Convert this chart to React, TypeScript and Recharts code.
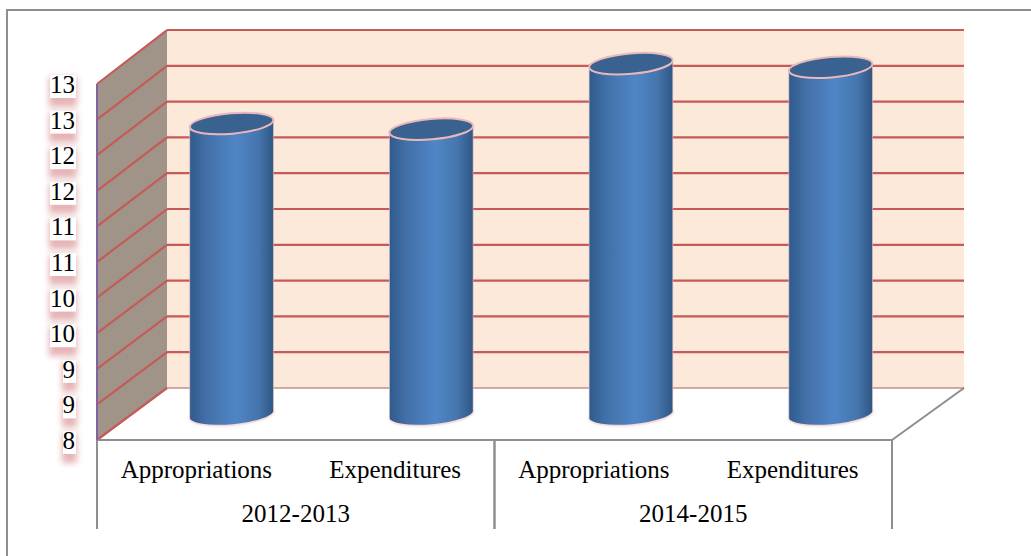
import React from "react";
import { Bar, CartesianGrid, ComposedChart, XAxis, YAxis } from "recharts";

const categories = ["Appropriations", "Expenditures", "Appropriations", "Expenditures"];
const periods = ["2012-2013", "2012-2013", "2014-2015", "2014-2015"];
const amounts = [12.08, 12.0, 12.92, 12.87];
const yTicks = [8, 8.5, 9, 9.5, 10, 10.5, 11, 11.5, 12, 12.5, 13];

const rows = categories.map((category, i) => ({
  category,
  period: periods[i],
  amount: amounts[i],
}));

const WIDTH = 1031;
const HEIGHT = 556;
const SERIF = "'Liberation Serif', 'Times New Roman', serif";
const WALL_RED = "#c65a58";
const FRAME_GREY = "#8e8e8e";
const DEPTH_X = 70;
const DEPTH_Y = 52;
const RIGHT_DEPTH_X = 72;
const BACK_STRETCH = 1.0056;
const FONT_SIZE = 25;

// Projects a point on the front plane onto the back wall of the 3D box.
const backY = (y: number, floorY: number) => floorY - DEPTH_Y - (floorY - y) * BACK_STRETCH;

function Walls({ x, y, width, height }: any) {
  const floorY = y + height;
  const bx = x + DEPTH_X;
  const right = x + width + RIGHT_DEPTH_X;
  const topBack = backY(y, floorY);
  const bottomBack = floorY - DEPTH_Y;
  return (
    <g>
      <rect x={bx} y={topBack} width={right - bx} height={bottomBack - topBack} fill="#fce9da" />
      <polygon
        points={`${x},${y} ${bx},${topBack} ${bx},${bottomBack} ${x},${floorY}`}
        fill="#a09488"
      />
      <line x1={x + width} y1={floorY} x2={right} y2={bottomBack} stroke={FRAME_GREY} strokeWidth={2} />
    </g>
  );
}

// Each grid line folds along the side wall and then runs across the back wall.
// The walls go in first so that every line lands on top of them.
function WallLine(props: any) {
  const { x, y, width, height, x1, x2, y1, index } = props;
  const floorY = y + height;
  const by = backY(y1, floorY);
  const bx = x1 + DEPTH_X;
  const onFloor = Math.abs(y1 - floorY) < 0.5;
  return (
    <g key={`wall-line-${index}`}>
      {index === 0 && <Walls x={x} y={y} width={width} height={height} />}
      <line x1={x1} y1={y1} x2={bx} y2={by} stroke={WALL_RED} strokeWidth={2.2} />
      <line
        x1={bx}
        y1={by}
        x2={x2 + RIGHT_DEPTH_X}
        y2={by}
        stroke={onFloor ? "#a8605a" : WALL_RED}
        strokeWidth={onFloor ? 1.2 : 2.2}
      />
    </g>
  );
}

// Draws each bar as an upright cylinder standing midway through the box depth.
function Cylinder(props: any) {
  const { x, y, width, height, index } = props;
  const mid = x + width / 2;
  const cx = mid + 35.6 + (mid - 196.4) * 0.0047;
  const top = y - DEPTH_Y / 2;
  const base = y + height - DEPTH_Y / 2;
  const rx = width / 2;
  const ry = 10.2;
  const tilt = -5;
  const lift = rx * Math.sin((tilt * Math.PI) / 180);
  const run = rx * Math.cos((tilt * Math.PI) / 180);
  const id = `cyl-${index}`;
  const l = cx - run;
  const r = cx + run;
  const body = `M${l},${top - lift} L${l},${base - lift} A${rx},${ry} ${tilt} 0 0 ${r},${base + lift} L${r},${top + lift} A${rx},${ry} ${tilt} 0 1 ${l},${top - lift} Z`;
  const underside = `M${l},${base - lift} A${rx},${ry} ${tilt} 0 0 ${r},${base + lift}`;
  return (
    <g>
      <defs>
        <linearGradient id={id} x1="0" y1="0" x2="1" y2="0">
          <stop offset="0" stopColor="#2f5a8c" />
          <stop offset="0.2" stopColor="#4270a8" />
          <stop offset="0.55" stopColor="#5085c6" />
          <stop offset="0.82" stopColor="#4575ad" />
          <stop offset="1" stopColor="#2f5683" />
        </linearGradient>
      </defs>
      <path
        d={underside}
        fill="none"
        stroke="#f0c4c4"
        strokeWidth={2.5}
        style={{ filter: "blur(1px)" }}
      />
      <path d={body} fill={`url(#${id})`} />
      <line x1={l} y1={top - lift} x2={l} y2={base - lift} stroke="#e8c4cc" strokeWidth={0.6} />
      <line x1={r} y1={top + lift} x2={r} y2={base + lift} stroke="#e8c4cc" strokeWidth={0.6} />
      <ellipse
        cx={cx}
        cy={top}
        rx={rx}
        ry={ry}
        transform={`rotate(${tilt} ${cx} ${top})`}
        fill="#3a6290"
        stroke="#e8b8bc"
        strokeWidth={2}
      />
    </g>
  );
}

// Value labels sit on a white plate with a soft rose shadow beneath.
function ValueTick({ y, payload }: any) {
  const label = String(Math.round(payload.value + 0.001));
  const plateW = label.length > 1 ? 26 : 13;
  const left = 76 - plateW;
  return (
    <g>
      <rect
        x={left - 1}
        y={y - 7}
        width={plateW + 2}
        height={30}
        fill="#e6b4b6"
        style={{ filter: "blur(3px)" }}
      />
      <rect x={left} y={y - 9} width={plateW} height={23} fill="#ffffff" />
      <text x={75} y={y + 9} textAnchor="end" fontFamily={SERIF} fontSize={FONT_SIZE} fill="#000">
        {label}
      </text>
    </g>
  );
}

function CategoryTick({ x, payload }: any) {
  return (
    <text x={x} y={478} textAnchor="middle" fontFamily={SERIF} fontSize={FONT_SIZE} fill="#000">
      {payload.value}
    </text>
  );
}

// Period labels bracketed by the vertical separators that run below the floor.
function PeriodTick({ x, payload }: any) {
  const half = 198.75;
  return (
    <g>
      <line x1={x - half} y1={440} x2={x - half} y2={529} stroke={FRAME_GREY} strokeWidth={2} />
      <line x1={x + half} y1={440} x2={x + half} y2={529} stroke={FRAME_GREY} strokeWidth={2} />
      <text x={x} y={522} textAnchor="middle" fontFamily={SERIF} fontSize={FONT_SIZE} fill="#000">
        {payload.value}
      </text>
    </g>
  );
}

export default function App() {
  return (
    <div
      style={{
        position: "absolute",
        left: 0,
        top: 0,
        width: WIDTH,
        height: HEIGHT,
        overflow: "hidden",
        background: "#fff",
      }}
    >
      <div
        style={{
          position: "absolute",
          left: 6,
          top: 9,
          width: WIDTH,
          height: HEIGHT,
          borderLeft: `2px solid ${FRAME_GREY}`,
          borderTop: `2px solid ${FRAME_GREY}`,
        }}
      />
      <ComposedChart
        width={WIDTH}
        height={HEIGHT}
        data={rows}
        margin={{ top: 84, right: 139, bottom: 26, left: 0 }}
        style={{ position: "absolute", left: 0, top: 0 }}
      >
        <CartesianGrid vertical={false} horizontal={(p: any) => <WallLine {...p} />} />
        <XAxis
          dataKey="category"
          allowDuplicatedCategory
          interval={0}
          height={50}
          tickLine={false}
          axisLine={{ stroke: FRAME_GREY, strokeWidth: 2 }}
          tick={<CategoryTick />}
        />
        <XAxis
          xAxisId="period"
          dataKey="period"
          allowDuplicatedCategory={false}
          interval={0}
          height={40}
          tickLine={false}
          axisLine={false}
          tick={<PeriodTick />}
        />
        <YAxis
          type="number"
          domain={[8, 13]}
          ticks={yTicks}
          interval={0}
          width={97}
          tickLine={false}
          axisLine={{ stroke: "#8064a2", strokeWidth: 2 }}
          tick={<ValueTick />}
        />
        <Bar dataKey="amount" barSize={84} shape={<Cylinder />} isAnimationActive={false} />
      </ComposedChart>
    </div>
  );
}
